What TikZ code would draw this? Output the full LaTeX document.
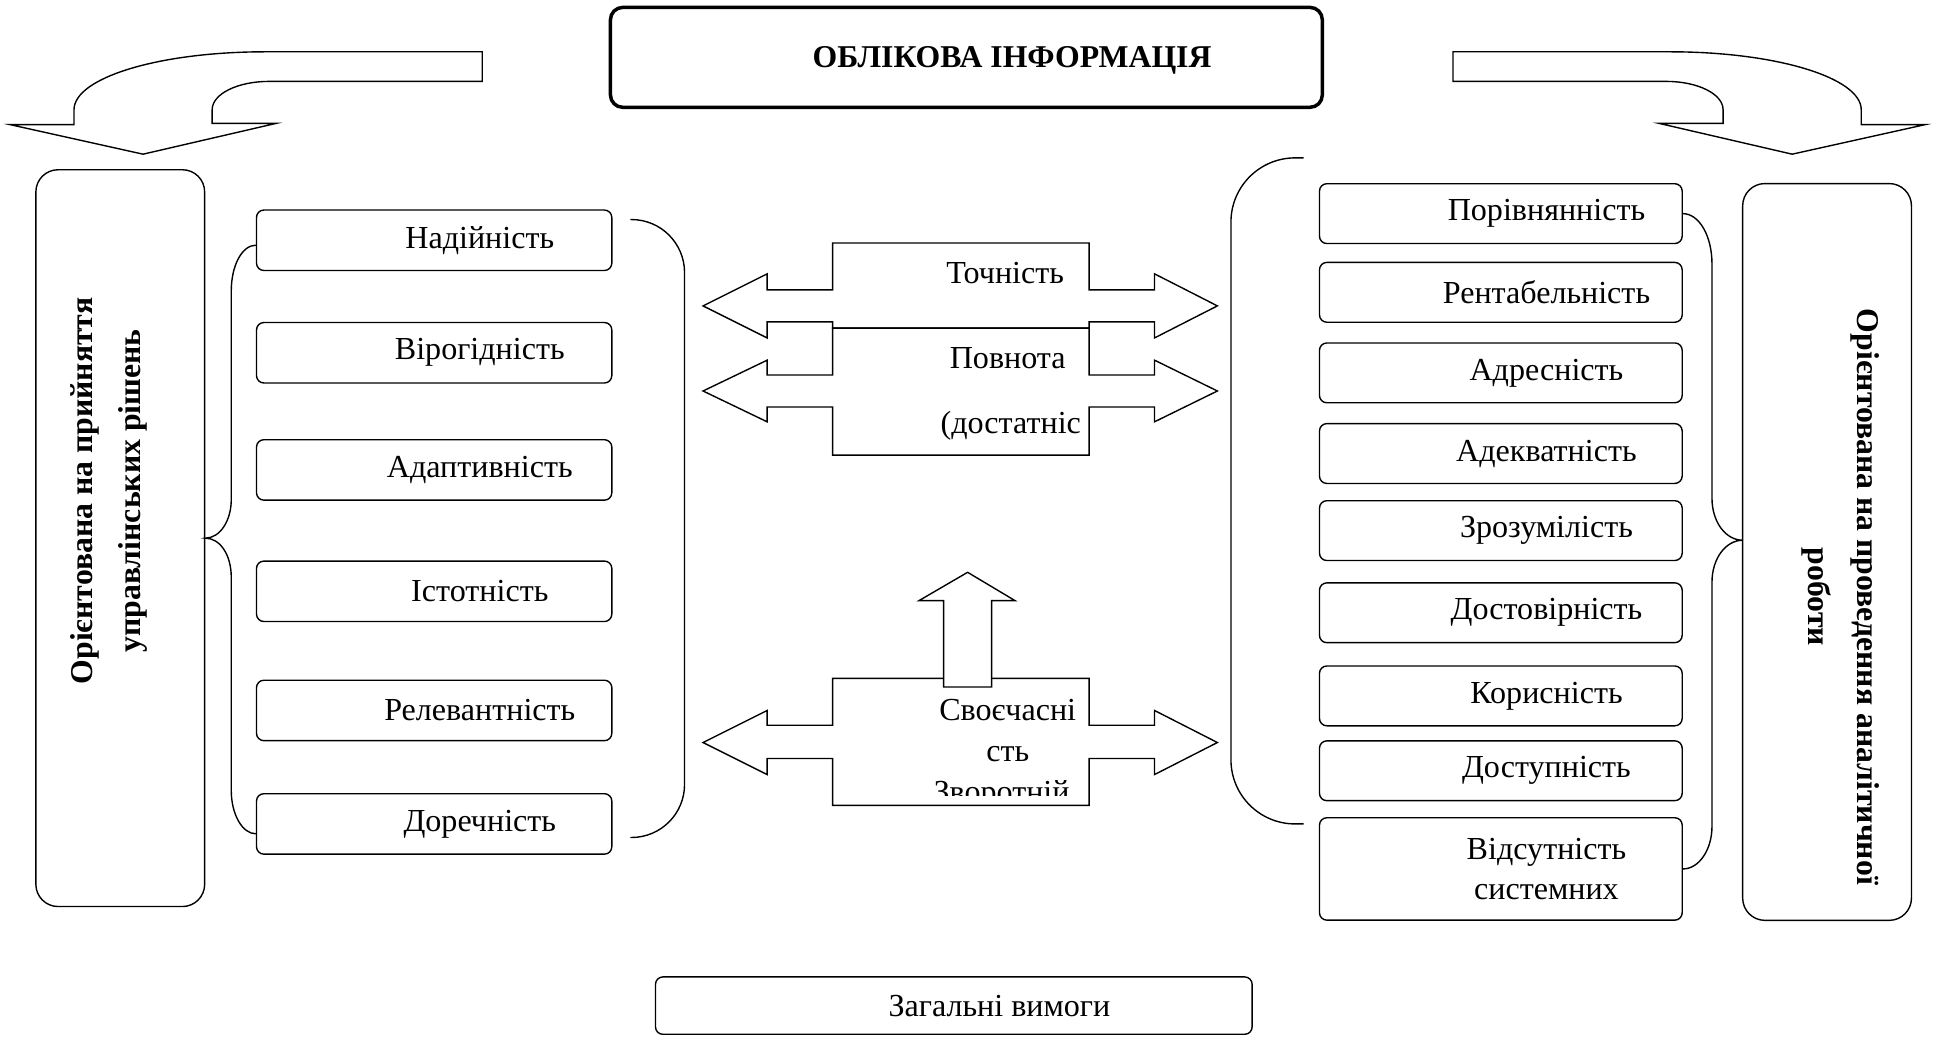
\documentclass[tikz,border=0pt]{standalone}
\usepackage{fontspec}
\setmainfont{Liberation Serif}
\usetikzlibrary{calc}

\newcommand{\ind}{\hspace*{1.85cm}}

\begin{document}
\begin{tikzpicture}[x=0.025cm,y=-0.025cm,line width=0.8pt,
    every node/.style={font=\fontsize{18.5}{22.7}\selectfont},
    box/.style={draw,rounded corners=0.15cm,inner sep=0pt,align=center},
    lbox/.style={box,minimum width=7.2cm,minimum height=1.225cm},
    rbox/.style={box,minimum width=7.35cm,minimum height=1.2125cm},
    side/.style={draw,rounded corners=0.45cm,minimum width=3.42cm,minimum height=14.93cm},
    bold/.style={font=\fontsize{18.3}{22}\selectfont\bfseries},
    blk/.style={draw,fill=white}]
  \useasboundingbox (0,0) rectangle (1568,840);
  % curved arrows at the top
  \draw[blk] (391,42) -- (215,42) .. controls (129,42) and (60,63) .. (60,89) -- (60,101)
             -- (8,101) -- (116,125) -- (224,100) -- (172,100) -- (172,89)
             .. controls (172,76) and (193,66) .. (218,66) -- (391,66) -- cycle;
  \draw[blk] (1178,42) -- (1354,42) .. controls (1440,42) and (1509,63) .. (1509,89) -- (1509,101)
             -- (1561,101) -- (1453,125) -- (1345,100) -- (1397,100) -- (1397,89)
             .. controls (1397,76) and (1376,66) .. (1351,66) -- (1178,66) -- cycle;
  \node[box,bold,line width=2pt,rounded corners=0.25cm,minimum width=14.425cm,minimum height=2.025cm,
        text depth=0pt]
                (T)   at (783.5,46.5) {\ind ОБЛІКОВА ІНФОРМАЦІЯ};
  % left part
  \node[side]   (L)   at (97.5,436.3) {};
  \node[bold,rotate=90,anchor=base] (La) at (75,398)  {Орієнтована на прийняття};
  \node[bold,rotate=90,anchor=base] (Lb) at (114,398) {управлінських рішень};
  \node[lbox]   (L1)  at (352,194.8) {\ind Надійність};
  \node[lbox]   (L2)  at (352,286)   {\ind Вірогідність};
  \node[lbox]   (L3)  at (352,381)   {\ind Адаптивність};
  \node[lbox]   (L4)  at (352,479.4) {\ind Істотність};
  \node[lbox]   (L5)  at (352,576)   {\ind Релевантність};
  \node[lbox]   (L6)  at (352,668)   {\ind Доречність};
  \draw ([yshift=-1mm]L1.west) .. controls +(-11,0) and +(0,-21) .. (187.5,236) -- (187.5,405)
        .. controls +(0,17) and +(12,0) .. (L.east)
        .. controls +(12,0) and +(0,-18) .. (187.5,468) -- (187.5,641)
        .. controls +(0,19) and +(-11,0) .. ([yshift=-2mm]L6.west);
  \draw[rounded corners=1.075cm] (511,178) -- (555,178) -- (555,679) -- (511,679);
  % right part
  \node[side]   (R)   at (1481.3,447.5) {};
  \node[bold,rotate=-90,anchor=base] (Ra) at (1506,484) {Орієнтована на проведення аналітичної};
  \node[bold,rotate=-90,anchor=base] (Rb) at (1466,484) {роботи};
  \node[rbox]   (R1)  at (1216.8,173.2) {\ind Порівнянність};
  \node[rbox]   (R2)  at (1216.8,237)   {\ind Рентабельність};
  \node[rbox]   (R3)  at (1216.8,302.3) {\ind Адресність};
  \node[rbox]   (R4)  at (1216.8,367.7) {\ind Адекватність};
  \node[rbox]   (R5)  at (1216.8,430.2) {\ind Зрозумілість};
  \node[rbox]   (R6)  at (1216.8,496.8) {\ind Достовірність};
  \node[rbox]   (R7)  at (1216.8,564.2) {\ind Корисність};
  \node[rbox]   (R8)  at (1216.8,624.9) {\ind Доступність};
  \node[rbox,minimum height=2.075cm]
                (R9)  at (1216.8,704.5) {\ind Відсутність\\\ind системних};
  \draw[rounded corners=1.3cm] (1057,128) -- (998,128) -- (998,668) -- (1057,668);
  \coordinate   (Rt)  at (1413,438);
  \draw (R1.east) .. controls +(13,0) and +(0,-23) .. (1388,214) -- (1388,404)
        .. controls +(0,19) and +(-14,0) .. (Rt)
        .. controls +(-14,0) and +(0,-19) .. (1388,472) -- (1388,670)
        .. controls +(0,19) and +(13,0) .. (R9.east);
  % arrows in the middle
  \draw[blk] (675,197) -- (883,197) -- (883,235) -- (936,235) -- (936,222) -- (987,248)
             -- (936,274) -- (936,261) -- (883,261) -- (883,266) -- (675,266) -- (675,261)
             -- (622,261) -- (622,274) -- (570,248) -- (622,222) -- (622,235) -- (675,235) -- cycle;
  \draw[blk] (675,266) -- (883,266) -- (883,304) -- (936,304) -- (936,292) -- (987,317)
             -- (936,342) -- (936,330) -- (883,330) -- (883,369) -- (675,369) -- (675,330)
             -- (622,330) -- (622,342) -- (570,317) -- (622,292) -- (622,304) -- (675,304) -- cycle;
  \node[anchor=base] (M1) at (815,229.7) {Точність};
  \node[anchor=base] (M2) at (817,298.5) {Повнота};
  \node[anchor=base] (M3) at (819.5,351.5) {(достатніс};
  \draw[blk] (675,550) -- (883,550) -- (883,588) -- (936,588) -- (936,576) -- (987,602)
             -- (936,628) -- (936,615) -- (883,615) -- (883,653) -- (675,653) -- (675,615)
             -- (622,615) -- (622,628) -- (570,602) -- (622,576) -- (622,588) -- (675,588) -- cycle;
  \draw[blk] (765,557) -- (765,487) -- (745,487) -- (784.5,464) -- (823,487) -- (804,487)
             -- (804,557) -- cycle;
  \node[anchor=base] (M4) at (817,583.8) {Своєчасні};
  \node[anchor=base] (M5) at (817,617.5) {сть};
  \begin{scope}
    \clip (675,550) rectangle (883,645);
    \node[anchor=base] (M6) at (812,651) {Зворотній};
  \end{scope}
  % bottom
  \node[box,minimum width=12.09cm,minimum height=1.1625cm]
                (G)   at (773.3,815.3) {\ind Загальні вимоги};
\end{tikzpicture}
\end{document}
